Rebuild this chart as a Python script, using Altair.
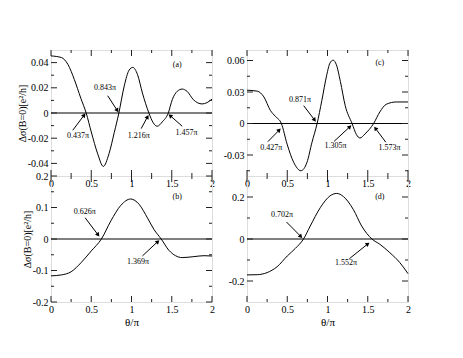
import math
import altair as alt
import pandas as pd

FONT = "Liberation Serif"
INK = "#222"

# ---------------- data ----------------
x_major = [0, 0.5, 1, 1.5, 2]
x_minor = [0.25, 0.75, 1.25, 1.75]

theta_a = [0, 0.13, 0.21, 0.29, 0.37, 0.437, 0.50, 0.58, 0.65, 0.72, 0.786, 0.843,
           0.91, 0.97, 1.016, 1.074, 1.136, 1.216, 1.27, 1.32, 1.383, 1.457, 1.506,
           1.568, 1.63, 1.69, 1.77, 1.877, 1.94, 2.0]
sigma_a = [0.0453, 0.0440, 0.0386, 0.0265, 0.0118, 0.0, -0.0150, -0.0324, -0.0424,
           -0.0324, -0.0155, 0.0, 0.0215, 0.0340, 0.0362, 0.0306, 0.0158, 0.0,
           -0.0078, -0.0105, -0.0070, 0.0, 0.0105, 0.0172, 0.0190, 0.0172, 0.0105,
           0.0072, 0.0083, 0.0110]

theta_b = [0, 0.13, 0.25, 0.374, 0.5, 0.626, 0.745, 0.868, 0.99, 1.095, 1.2, 1.28,
           1.369, 1.465, 1.547, 1.63, 1.774, 1.9, 2.0]
sigma_b = [-0.117, -0.114, -0.104, -0.075, -0.038, 0.0, 0.058, 0.107, 0.127, 0.110,
           0.066, 0.030, 0.0, -0.036, -0.053, -0.059, -0.056, -0.053, -0.054]

theta_c = [0, 0.128, 0.21, 0.29, 0.354, 0.427, 0.498, 0.58, 0.67, 0.745, 0.807,
           0.871, 0.93, 0.99, 1.03, 1.07, 1.11, 1.16, 1.22, 1.305, 1.36, 1.403,
           1.465, 1.573, 1.65, 1.73, 1.856, 2.0]
sigma_c = [0.0317, 0.0308, 0.0253, 0.0125, 0.0067, 0.0, -0.0196, -0.0370, -0.0450,
           -0.0370, -0.0180, 0.0, 0.0220, 0.0460, 0.0575, 0.0603, 0.0560, 0.0400,
           0.0170, 0.0, -0.0106, -0.0138, -0.0100, 0.0, 0.0110, 0.0183, 0.0205, 0.0205]

theta_d = [0, 0.128, 0.25, 0.374, 0.5, 0.6, 0.702, 0.786, 0.91, 1.03, 1.115, 1.198,
           1.32, 1.424, 1.552, 1.65, 1.774, 1.9, 2.0]
sigma_d = [-0.171, -0.170, -0.160, -0.132, -0.081, -0.045, 0.0, 0.062, 0.149, 0.205,
           0.217, 0.202, 0.141, 0.062, 0.0, -0.025, -0.065, -0.113, -0.165]

# annotations: text, label x/y, arrow tail x/y, arrow head x/y
ann_a_text = ["0.437π", "0.843π", "1.216π", "1.457π"]
ann_a_lx = [0.337, 0.67, 1.09, 1.683]
ann_a_ly = [-0.0185, 0.0198, -0.0185, -0.0158]
ann_a_tx = [0.27, 0.704, 1.12, 1.63]
ann_a_ty = [-0.0137, 0.0137, -0.0124, -0.0105]
ann_a_hx = [0.407, 0.819, 1.195, 1.486]
ann_a_hy = [-0.0021, 0.0024, -0.0035, -0.0024]

ann_b_text = ["0.626π", "1.369π"]
ann_b_lx = [0.42, 1.082]
ann_b_ly = [0.0853, -0.0737]
ann_b_tx = [0.424, 1.136]
ann_b_ty = [0.0674, -0.0537]
ann_b_hx = [0.58, 1.321]
ann_b_hy = [0.0147, -0.0095]

ann_c_text = ["0.427π", "0.871π", "1.305π", "1.573π"]
ann_c_lx = [0.30, 0.658, 1.099, 1.77]
ann_c_ly = [-0.0231, 0.0224, -0.0218, -0.0231]
ann_c_tx = [0.259, 0.704, 1.082, 1.724]
ann_c_ty = [-0.0173, 0.0170, -0.0170, -0.0178]
ann_c_hx = [0.395, 0.835, 1.272, 1.60]
ann_c_hy = [-0.0067, 0.0038, -0.0035, -0.0051]

ann_d_text = ["0.702π", "1.552π"]
ann_d_lx = [0.436, 1.23]
ann_d_ly = [0.1127, -0.114]
ann_d_tx = [0.49, 1.272]
ann_d_ty = [0.081, -0.0937]
ann_d_hx = [0.663, 1.494]
ann_d_hy = [0.0143, -0.0254]

tags = ["(a)", "(b)", "(c)", "(d)"]
tag_x = [1.568, 1.568, 1.65, 1.65]
tag_y = [0.0378, 0.1326, 0.058, 0.200]

ydom_a, ymaj_a, ymin_a = [-0.05, 0.05], [-0.04, -0.02, 0, 0.02, 0.04], [-0.03, -0.01, 0.01, 0.03]
ydom_b, ymaj_b, ymin_b = [-0.2, 0.2], [-0.2, -0.1, 0, 0.1, 0.2], [-0.15, -0.05, 0.05, 0.15]
ydom_c, ymaj_c, ymin_c = [-0.05, 0.07], [-0.03, 0, 0.03, 0.06], [-0.045, -0.015, 0.015, 0.045]
ydom_d, ymaj_d, ymin_d = [-0.3, 0.3], [-0.2, 0, 0.2], [-0.1, 0.1]

W, H = 161, 126
YTITLE = "Δσ(B=0)[e²/h]"


def panel(xs, ys, ydom, ymaj, ymin, ann, tag, tx, ty, ytitle, xtitle):
    xsc = alt.Scale(domain=[0, 2], nice=False, zero=False)
    ysc = alt.Scale(domain=ydom, nice=False, zero=False)
    xax = alt.Axis(values=x_major, ticks=False, domain=False, grid=False,
                   labelExpr="'' + datum.value", labelPadding=2, labelFont=FONT,
                   labelFontSize=10, labelColor="black", labelFlush=False,
                   labelOverlap=False,
                   titleFont=FONT, titleFontSize=11, titleFontWeight="normal",
                   titleColor="black", titlePadding=2)
    yax = alt.Axis(values=ymaj, ticks=False, domain=False, grid=False,
                   labelExpr="'' + datum.value", labelPadding=3, labelFont=FONT,
                   labelFontSize=10, labelColor="black", labelFlush=False,
                   labelOverlap=False,
                   titleFont=FONT, titleFontSize=10, titleFontWeight="normal",
                   titleColor="black", titlePadding=0)

    def X(f):
        return alt.X(f, scale=xsc, axis=xax, title=xtitle)

    def Y(f):
        return alt.Y(f, scale=ysc, axis=yax, title=ytitle)

    curve = pd.DataFrame({"x": xs, "y": ys})
    layers = []
    layers.append(alt.Chart(curve).mark_line(color="black", strokeWidth=1,
                                             interpolate="monotone").encode(
        x=X("x:Q"), y=Y("y:Q")))
    # zero line
    layers.append(alt.Chart(pd.DataFrame({"y": [0]})).mark_rule(
        color="black", strokeWidth=1).encode(y=Y("y:Q")))
    # inward ticks
    for vals, L in ((ymaj, 6), (ymin, 3)):
        d = pd.DataFrame({"v": vals})
        layers.append(alt.Chart(d).mark_rule(color=INK, strokeWidth=1).encode(
            y=Y("v:Q"), x=alt.value(0), x2=alt.value(L)))
        layers.append(alt.Chart(d).mark_rule(color=INK, strokeWidth=1).encode(
            y=Y("v:Q"), x=alt.value(W), x2=alt.value(W - L)))
    for vals, L in ((x_major, 6), (x_minor, 3)):
        d = pd.DataFrame({"v": vals})
        layers.append(alt.Chart(d).mark_rule(color=INK, strokeWidth=1).encode(
            x=X("v:Q"), y=alt.value(0), y2=alt.value(L)))
        layers.append(alt.Chart(d).mark_rule(color=INK, strokeWidth=1).encode(
            x=X("v:Q"), y=alt.value(H), y2=alt.value(H - L)))
    # annotations
    text, lx, ly, ax_, ay_, hx, hy = ann
    sx = W / 2.0
    sy = H / (ydom[1] - ydom[0])
    ang = []
    for a, b, c, e in zip(ax_, ay_, hx, hy):
        dxp = (c - a) * sx
        dyp = (e - b) * sy
        ang.append(math.degrees(math.atan2(dxp, dyp)) % 360)
    ad = pd.DataFrame({"t": text, "lx": lx, "ly": ly, "ax": ax_, "ay": ay_,
                       "hx": hx, "hy": hy, "ang": ang})
    layers.append(alt.Chart(ad).mark_text(font=FONT, fontSize=8, color="black").encode(
        x=X("lx:Q"), y=Y("ly:Q"), text="t:N"))
    layers.append(alt.Chart(ad).mark_rule(color="black", strokeWidth=1).encode(
        x=X("ax:Q"), y=Y("ay:Q"), x2="hx:Q", y2="hy:Q"))
    layers.append(alt.Chart(ad).mark_point(shape="triangle", filled=True, size=22,
                                           color="black", opacity=1).encode(
        x=X("hx:Q"), y=Y("hy:Q"), angle=alt.Angle("ang:Q", scale=None)))
    td = pd.DataFrame({"t": [tag], "x": [tx], "y": [ty]})
    layers.append(alt.Chart(td).mark_text(font=FONT, fontSize=8, color="black").encode(
        x=X("x:Q"), y=Y("y:Q"), text="t:N"))
    return alt.layer(*layers).properties(width=W, height=H)


pa = panel(theta_a, sigma_a, ydom_a, ymaj_a, ymin_a,
           (ann_a_text, ann_a_lx, ann_a_ly, ann_a_tx, ann_a_ty, ann_a_hx, ann_a_hy),
           tags[0], tag_x[0], tag_y[0], YTITLE, None)
pb = panel(theta_b, sigma_b, ydom_b, ymaj_b, ymin_b,
           (ann_b_text, ann_b_lx, ann_b_ly, ann_b_tx, ann_b_ty, ann_b_hx, ann_b_hy),
           tags[1], tag_x[1], tag_y[1], YTITLE, "θ/π")
pc = panel(theta_c, sigma_c, ydom_c, ymaj_c, ymin_c,
           (ann_c_text, ann_c_lx, ann_c_ly, ann_c_tx, ann_c_ty, ann_c_hx, ann_c_hy),
           tags[2], tag_x[2], tag_y[2], None, None)
pd_ = panel(theta_d, sigma_d, ydom_d, ymaj_d, ymin_d,
            (ann_d_text, ann_d_lx, ann_d_ly, ann_d_tx, ann_d_ty, ann_d_hx, ann_d_hy),
            tags[3], tag_x[3], tag_y[3], None, "θ/π")

left_col = alt.vconcat(pa, pb, spacing=0, bounds="flush")
right_col = alt.vconcat(pc, pd_, spacing=0, bounds="flush")

chart = alt.hconcat(left_col, right_col, spacing=7).properties(
    padding={"left": 8, "top": 41, "right": 5, "bottom": 5}
).configure_view(stroke=INK, strokeWidth=1).configure(background="white")

chart.save("out.html", embed_options={"renderer": "svg", "actions": False})
